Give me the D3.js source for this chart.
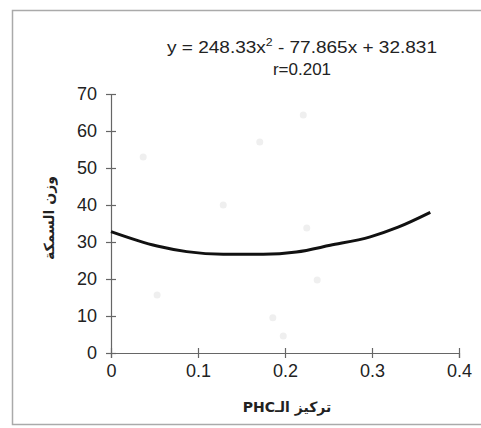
<!DOCTYPE html>
<html>
<head>
<meta charset="utf-8">
<script src="https://cdn.jsdelivr.net/npm/d3@7"></script>
<style>
  body { margin: 0; background: #fff; }
  svg text { fill: #222; }
</style>
</head>
<body>
<div id="chart"></div>
<script>
var width = 481,
  height = 428;

// fitted curve
var curveX = [0, 0.053, 0.087, 0.129, 0.175, 0.213, 0.252, 0.298, 0.33, 0.367];
var curveY = [32.8, 28.9, 27.4, 26.7, 26.7, 27.3, 29.1, 31.4, 34.0, 38.0];

// faint scatter points left in the scan
var pointX = [0.037, 0.053, 0.129, 0.171, 0.186, 0.198, 0.221, 0.225, 0.237];
var pointY = [53, 15.7, 40, 57, 9.5, 4.6, 64.3, 33.8, 19.7];

var xTicks = [0, 0.1, 0.2, 0.3, 0.4];
var xTickLabels = ['0', '0.1', '0.2', '0.3', '0.4'];
var yTicks = [0, 10, 20, 30, 40, 50, 60, 70];
var yTickLabels = ['0', '10', '20', '30', '40', '50', '60', '70'];

var equation = ['y = 248.33x', '2', ' - 77.865x + 32.831'];
var rText = 'r=0.201';
var xTitle = 'تركيز الـPHC';
var yTitle = 'وزن السمكة';

var svg = d3.select('#chart').append('svg')
  .attr('width', width)
  .attr('height', height);

// frame of the scanned chart
svg.append('rect')
  .attr('x', 12.5)
  .attr('y', 10.5)
  .attr('width', 480)
  .attr('height', 414)
  .attr('fill', 'none')
  .attr('stroke', '#aaa')
  .attr('stroke-width', 1.5);

var x = d3.scaleLinear()
  .domain([0, 0.4])
  .range([111, 459]);

var y = d3.scaleLinear()
  .domain([0, 70])
  .range([353, 94]);

var xAxis = svg.append('g')
  .attr('transform', 'translate(0,' + y(0) + ')')
  .call(d3.axisBottom(x)
    .tickValues(xTicks)
    .tickSize(5)
    .tickPadding(6)
    .tickFormat(function(d, i) { return xTickLabels[i]; }));

var yAxis = svg.append('g')
  .attr('transform', 'translate(' + x(0) + ',0)')
  .call(d3.axisLeft(y)
    .tickValues(yTicks)
    .tickSize(5)
    .tickPadding(9)
    .tickFormat(function(d, i) { return yTickLabels[i]; }));

// cross tick marks like excel
xAxis.selectAll('.tick line').attr('y1', -5);
yAxis.selectAll('.tick line').attr('x1', 5);

svg.selectAll('.domain, .tick line')
  .attr('stroke', '#666')
  .attr('stroke-width', 1.2);

svg.selectAll('.tick text')
  .attr('font-family', 'Liberation Sans, Arial, sans-serif')
  .attr('font-size', 18)
  .style('fill', '#222');

// faint points
svg.selectAll('.pt')
  .data(pointX)
  .enter().append('circle').classed('pt', true)
  .attr('cx', function(d) { return x(d); })
  .attr('cy', function(d, i) { return y(pointY[i]); })
  .attr('r', 3.5)
  .attr('fill', '#efefef');

var line = d3.line()
  .x(function(d) { return x(d); })
  .y(function(d, i) { return y(curveY[i]); })
  .curve(d3.curveMonotoneX);

svg.append('path')
  .datum(curveX)
  .attr('d', line)
  .attr('fill', 'none')
  .attr('stroke', '#111')
  .attr('stroke-width', 3);

// equation
var eq = svg.append('text')
  .attr('x', 302)
  .attr('y', 53)
  .attr('text-anchor', 'middle')
  .attr('font-family', 'Liberation Sans, Arial, sans-serif')
  .attr('font-size', 17)
  .attr('textLength', 270)
  .attr('lengthAdjust', 'spacingAndGlyphs');
eq.append('tspan').text(equation[0]);
eq.append('tspan').attr('font-size', 11).attr('dy', -7).text(equation[1]);
eq.append('tspan').attr('dy', 7).text(equation[2]);

svg.append('text')
  .attr('x', 302)
  .attr('y', 75)
  .attr('text-anchor', 'middle')
  .attr('font-family', 'Liberation Sans, Arial, sans-serif')
  .attr('font-size', 17)
  .text(rText);

// axis titles
svg.append('text')
  .attr('x', 287)
  .attr('y', 412)
  .attr('text-anchor', 'middle')
  .attr('direction', 'rtl')
  .attr('font-family', 'DejaVu Sans, sans-serif')
  .attr('font-weight', 'bold')
  .attr('font-size', 14)
  .text(xTitle);

svg.append('text')
  .attr('transform', 'translate(54,218) rotate(-90)')
  .attr('text-anchor', 'middle')
  .attr('direction', 'rtl')
  .attr('font-family', 'DejaVu Sans, sans-serif')
  .attr('font-weight', 'bold')
  .attr('font-size', 14)
  .text(yTitle);
</script>
</body>
</html>
